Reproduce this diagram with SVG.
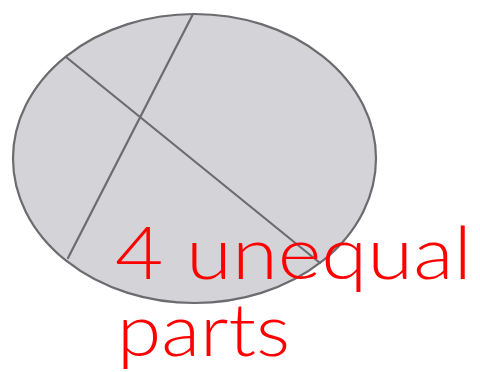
<svg xmlns="http://www.w3.org/2000/svg" width="480" height="372" viewBox="0 0 480 372">
<style>
.edge{fill:none;stroke:#6b6b70;stroke-width:2.2;stroke-linecap:round}
.lbl{font-family:Lato,"Liberation Sans",Arial,sans-serif;font-weight:300;font-size:72px;fill:#ff0000}
</style>
<rect width="480" height="372" fill="#ffffff"/>
<g id="disc">
<ellipse cx="194.5" cy="158.5" rx="181.5" ry="144.5" fill="#d3d3d8" stroke="#6b6b70" stroke-width="2.2"/>
</g>
<g id="cuts">
<line class="edge" x1="193" y1="14" x2="68" y2="258"/>
<line class="edge" x1="66" y1="57" x2="320" y2="263"/>
</g>
<g id="label">
<text class="lbl" x="115" y="279" textLength="357" lengthAdjust="spacingAndGlyphs">4 unequal</text>
<text class="lbl" x="117" y="356" font-size="68" textLength="173" lengthAdjust="spacingAndGlyphs">parts</text>
</g>
</svg>
